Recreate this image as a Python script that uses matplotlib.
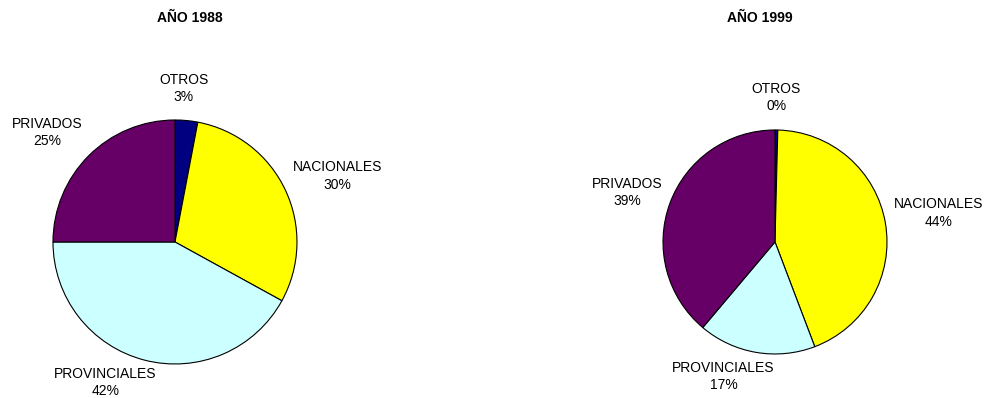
import matplotlib
matplotlib.use("Agg")
import matplotlib.pyplot as plt
import numpy as np

plt.rcParams['font.family'] = ['Liberation Sans', 'DejaVu Sans']

categories = ['OTROS', 'NACIONALES', 'PROVINCIALES', 'PRIVADOS']
colors = ['#000080', '#FFFF00', '#CCFFFF', '#660066']

values_1988 = [3, 30, 42, 25]
values_1999 = [0.4, 44, 17, 39]

# label positions in pie-radius units (layout, as in the original chart)
label_pos_1988 = [(0.07, 1.26), (1.33, 0.54), (-0.57, -1.15), (-1.05, 0.90)]
label_pos_1999 = [(0.01, 1.29), (1.46, 0.26), (-0.46, -1.20), (-1.32, 0.44)]

fig = plt.figure(figsize=(9.85, 3.98), dpi=100)


def make_pie(rect, values, title, title_x, label_pos):
    ax = fig.add_axes(rect)
    wedges, texts = ax.pie(values, colors=colors, startangle=90, counterclock=False,
                           labels=['%s\n%.0f%%' % (c, v) for c, v in zip(categories, values)],
                           wedgeprops=dict(edgecolor='black', linewidth=0.8),
                           textprops=dict(fontsize=10, linespacing=1.3))
    for t, p in zip(texts, label_pos):
        t.set_position(p)
        t.set_ha('center')
        t.set_va('center')
        t.set_clip_on(False)
    ax.set_aspect('equal')
    ax.set_xlim(-1, 1)
    ax.set_ylim(-1, 1)
    fig.text(title_x, 1 - 18 / 398, title, fontsize=10, fontweight='bold',
             ha='center', va='center')
    return ax


ax1 = make_pie([0.1777 - 0.1239, 0.392 - 0.3065, 0.2477, 0.613],
               values_1988, 'AÑO 1988', 190 / 985, label_pos_1988)
ax2 = make_pie([0.7868 - 0.1137, 0.392 - 0.2814, 0.2274, 0.5628],
               values_1999, 'AÑO 1999', 760 / 985, label_pos_1999)

fig.savefig('out.png', dpi=100)
